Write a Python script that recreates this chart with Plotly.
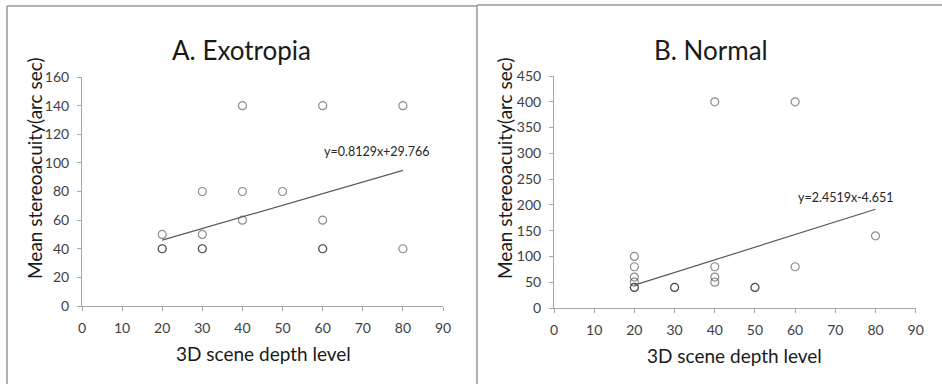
import plotly.graph_objects as go

W, H = 942, 384

# Panel A: Exotropia
exo_x = [20, 20, 20, 30, 30, 30, 30, 40, 40, 40, 50, 60, 60, 60, 60, 80, 80]
exo_y = [50, 40, 40, 80, 50, 40, 40, 140, 80, 60, 80, 140, 60, 40, 40, 140, 40]
exo_fit = (0.8129, 29.766)
exo_eq = "y=0.8129x+29.766"

# Panel B: Normal
nor_x = [20, 20, 20, 20, 20, 20, 30, 30, 40, 40, 40, 40, 50, 50, 60, 60, 80]
nor_y = [100, 80, 60, 50, 40, 40, 40, 40, 400, 80, 60, 50, 40, 40, 400, 80, 140]
nor_fit = (2.4519, -4.651)
nor_eq = "y=2.4519x-4.651"

fit_range = [20, 80]
x_ticks = [0, 10, 20, 30, 40, 50, 60, 70, 80, 90]
exo_yticks = [0, 20, 40, 60, 80, 100, 120, 140, 160]
nor_yticks = [0, 50, 100, 150, 200, 250, 300, 350, 400, 450]

FONT = "Lato, 'Open Sans', sans-serif"
AX = "#a6a6a6"
TXT = "#404040"

def px(x):
    return x / W

def py(y):
    return 1 - y / H

fig = go.Figure()

marker = dict(symbol="circle-open", size=8, color="rgba(0,0,0,0.45)",
              line=dict(width=1.2, color="rgba(0,0,0,0.45)"))

fig.add_trace(go.Scatter(x=exo_x, y=exo_y, mode="markers", marker=marker,
                         xaxis="x", yaxis="y", showlegend=False))
fig.add_trace(go.Scatter(x=fit_range, y=[exo_fit[0] * v + exo_fit[1] for v in fit_range],
                         mode="lines", line=dict(color="#595959", width=1.2),
                         xaxis="x", yaxis="y", showlegend=False))
fig.add_trace(go.Scatter(x=nor_x, y=nor_y, mode="markers", marker=marker,
                         xaxis="x2", yaxis="y2", showlegend=False))
fig.add_trace(go.Scatter(x=fit_range, y=[nor_fit[0] * v + nor_fit[1] for v in fit_range],
                         mode="lines", line=dict(color="#595959", width=1.2),
                         xaxis="x2", yaxis="y2", showlegend=False))

def xaxis(domain, anchor):
    return dict(domain=domain, anchor=anchor, range=[0, 90], tickvals=x_ticks,
                showgrid=False, zeroline=False, showline=True, linecolor=AX, linewidth=1,
                ticks="outside", ticklen=4, tickcolor=AX, automargin=False,
                ticklabelstandoff=5,
                tickfont=dict(family=FONT, size=14, color=TXT))

def yaxis(domain, anchor, rng, tv):
    return dict(domain=domain, anchor=anchor, range=rng, tickvals=tv,
                showgrid=False, zeroline=False, showline=True, linecolor=AX, linewidth=1,
                ticks="outside", ticklen=4, tickcolor=AX, automargin=False,
                ticklabelstandoff=5,
                tickfont=dict(family=FONT, size=14, color=TXT))

fig.update_layout(
    width=W, height=H,
    margin=dict(l=0, r=0, t=0, b=0, pad=0, autoexpand=False),
    paper_bgcolor="white", plot_bgcolor="white",
    xaxis=xaxis([px(82), px(443)], "y"),
    yaxis=yaxis([py(306), py(77)], "x", [0, 160], exo_yticks),
    xaxis2=xaxis([px(554), px(915.7)], "y2"),
    yaxis2=yaxis([py(308), py(76)], "x2", [0, 450], nor_yticks),
)

anns = [
    dict(text="A. Exotropia", x=px(241), y=py(50), size=26, color="#1a1a1a", angle=0),
    dict(text="B. Normal", x=px(711), y=py(50), size=26, color="#1a1a1a", angle=0),
    dict(text="3D scene depth level", x=px(263), y=py(353), size=19, color="#1a1a1a", angle=0),
    dict(text="3D scene depth level", x=px(734), y=py(355), size=19, color="#1a1a1a", angle=0),
    dict(text="Mean stereoacuity(arc sec)", x=px(34), y=py(168), size=19, color="#1a1a1a", angle=-90),
    dict(text="Mean stereoacuity(arc sec)", x=px(504), y=py(168), size=19, color="#1a1a1a", angle=-90),
    dict(text=exo_eq, x=px(377), y=py(151), size=12.5, color="#262626", angle=0),
    dict(text=nor_eq, x=px(846), y=py(197), size=12.5, color="#262626", angle=0),
]
for a in anns:
    fig.add_annotation(text=a["text"], x=a["x"], y=a["y"], xref="paper", yref="paper",
                       showarrow=False, textangle=a["angle"], xanchor="center", yanchor="middle",
                       font=dict(family=FONT, size=a["size"], color=a["color"]))

# panel borders
border = dict(color="#999999", width=1.5)
fig.add_shape(type="line", xref="paper", yref="paper", x0=px(7), x1=px(477), y0=py(6), y1=py(6), line=border)
fig.add_shape(type="line", xref="paper", yref="paper", x0=px(7), x1=px(7), y0=py(6), y1=0, line=border)
fig.add_shape(type="line", xref="paper", yref="paper", x0=px(477), x1=px(942), y0=py(5), y1=py(5), line=border)
fig.add_shape(type="line", xref="paper", yref="paper", x0=px(477), x1=px(477), y0=py(5), y1=0, line=border)

fig.write_html("out.html", config={"displayModeBar": False, "staticPlot": True})

with open("out.html", "r", encoding="utf-8") as f:
    html = f.read()
html = html.replace("<head>", "<head><style>html,body{margin:0;padding:0;overflow:hidden;}</style>", 1)
with open("out.html", "w", encoding="utf-8") as f:
    f.write(html)
